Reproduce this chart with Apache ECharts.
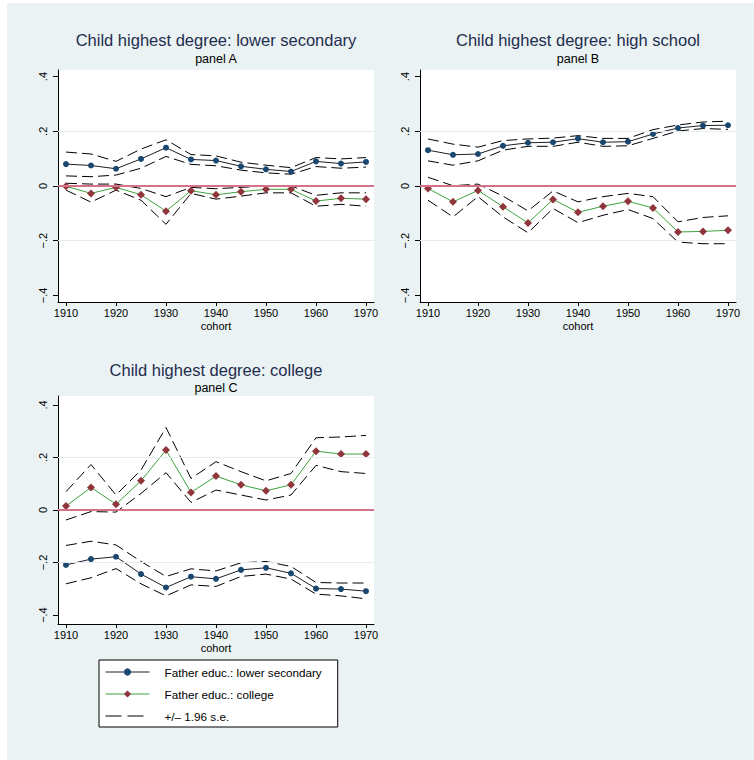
<!DOCTYPE html>
<html>
<head>
<meta charset="utf-8">
<script src="https://cdn.jsdelivr.net/npm/echarts@6/dist/echarts.min.js"></script>
<style>
  html, body { margin: 0; padding: 0; background: #ffffff; }
  #chart { width: 754px; height: 760px; }
</style>
</head>
<body>
<div id="chart"></div>
<script>
// Birth cohorts on the x axis
const cohorts = [1910, 1915, 1920, 1925, 1930, 1935, 1940, 1945, 1950, 1955, 1960, 1965, 1970];
const xTicks = [1910, 1920, 1930, 1940, 1950, 1960, 1970];
const yTicks = [-0.4, -0.2, 0, 0.2, 0.4];
const yTickLabels = ['\u2212.4', '\u2212.2', '0', '.2', '.4'];

const panelTitles = ['Child highest degree: lower secondary', 'Child highest degree: high school', 'Child highest degree: college'];
const panelSubtitles = ['panel A', 'panel B', 'panel C'];
const seriesNames = ['Father educ.: lower secondary', 'Father educ.: college', '+/\u2013 1.96 s.e.'];
const xAxisName = 'cohort';

// Panel A: child reached lower secondary
const aLowSecEst = [0.080, 0.075, 0.063, 0.099, 0.140, 0.097, 0.093, 0.072, 0.061, 0.053, 0.090, 0.082, 0.088];
const aLowSecHi  = [0.124, 0.117, 0.090, 0.135, 0.169, 0.115, 0.110, 0.087, 0.076, 0.067, 0.104, 0.099, 0.104];
const aLowSecLo  = [0.037, 0.034, 0.040, 0.065, 0.108, 0.079, 0.074, 0.058, 0.048, 0.043, 0.071, 0.065, 0.069];
const aCollEst   = [-0.001, -0.027, -0.005, -0.032, -0.092, -0.017, -0.032, -0.021, -0.012, -0.012, -0.055, -0.045, -0.048];
const aCollHi    = [0.010, 0.007, 0.007, -0.009, -0.039, -0.005, -0.010, -0.005, 0.000, 0.000, -0.034, -0.025, -0.025];
const aCollLo    = [-0.015, -0.059, -0.015, -0.052, -0.140, -0.027, -0.048, -0.037, -0.025, -0.025, -0.074, -0.067, -0.074];

// Panel B: child reached high school
const bLowSecEst = [0.131, 0.114, 0.117, 0.147, 0.158, 0.160, 0.173, 0.160, 0.162, 0.190, 0.212, 0.221, 0.222];
const bLowSecHi  = [0.172, 0.153, 0.142, 0.166, 0.172, 0.175, 0.184, 0.174, 0.174, 0.206, 0.223, 0.234, 0.237];
const bLowSecLo  = [0.092, 0.076, 0.092, 0.131, 0.145, 0.145, 0.160, 0.145, 0.147, 0.174, 0.201, 0.210, 0.207];
const bCollEst   = [-0.009, -0.058, -0.016, -0.076, -0.135, -0.049, -0.096, -0.074, -0.056, -0.080, -0.168, -0.166, -0.162];
const bCollHi    = [0.032, 0.001, 0.007, -0.037, -0.091, -0.018, -0.058, -0.039, -0.027, -0.039, -0.131, -0.115, -0.109];
const bCollLo    = [-0.052, -0.113, -0.039, -0.113, -0.171, -0.082, -0.134, -0.107, -0.086, -0.119, -0.205, -0.211, -0.211];

// Panel C: child reached college
const cLowSecEst = [-0.209, -0.187, -0.178, -0.244, -0.295, -0.254, -0.262, -0.228, -0.220, -0.241, -0.299, -0.301, -0.309];
const cLowSecHi  = [-0.135, -0.119, -0.133, -0.196, -0.253, -0.224, -0.232, -0.201, -0.196, -0.215, -0.276, -0.278, -0.278];
const cLowSecLo  = [-0.281, -0.258, -0.223, -0.281, -0.327, -0.285, -0.291, -0.253, -0.244, -0.263, -0.320, -0.327, -0.338];
const cCollEst   = [0.015, 0.086, 0.022, 0.111, 0.228, 0.067, 0.129, 0.096, 0.073, 0.096, 0.224, 0.213, 0.213];
const cCollHi    = [0.070, 0.173, 0.057, 0.152, 0.314, 0.120, 0.184, 0.146, 0.111, 0.139, 0.275, 0.278, 0.284];
const cCollLo    = [-0.038, -0.006, -0.008, 0.063, 0.142, 0.029, 0.076, 0.057, 0.038, 0.057, 0.170, 0.146, 0.139];

const panels = [
  { est1: aLowSecEst, hi1: aLowSecHi, lo1: aLowSecLo, est2: aCollEst, hi2: aCollHi, lo2: aCollLo },
  { est1: bLowSecEst, hi1: bLowSecHi, lo1: bLowSecLo, est2: bCollEst, hi2: bCollHi, lo2: bCollLo },
  { est1: cLowSecEst, hi1: cLowSecHi, lo1: cLowSecLo, est2: cCollEst, hi2: cCollHi, lo2: cCollLo }
];

const FONT = '"Liberation Sans", Arial, Helvetica, sans-serif';
const NAVY = '#1a476f';
const MAROON = '#90353b';
const GREEN = '#3da33d';
const LINE_DARK = '#1b1f2a';
const ZERO_RED = '#d4728a';
const GRID_TINT = '#e4eef0';

// Plot regions (pixels) and vertical extents
const grids = [
  { left: 58, top: 70, width: 316, height: 232 },
  { left: 420, top: 70, width: 316, height: 232 },
  { left: 58, top: 396, width: 316, height: 228 }
];
const yExtent = [0.424, 0.424, 0.434];

const pairs = vals => vals.map((v, i) => [cohorts[i], v]);
const tickLabel = v => {
  const i = yTicks.findIndex(t => Math.abs(t - v) < 1e-9);
  return i < 0 ? '' : yTickLabels[i];
};

const xAxes = grids.map((g, i) => ({
  type: 'value', gridIndex: i, min: 1908.4, max: 1971.6,
  name: xAxisName, nameLocation: 'middle', nameGap: 18,
  nameTextStyle: { fontFamily: FONT, fontSize: 11, color: '#000' },
  axisLine: { show: true, onZero: false, lineStyle: { color: '#000', width: 1 } },
  axisTick: { show: true, length: 4, customValues: xTicks, lineStyle: { color: '#000' } },
  axisLabel: { customValues: xTicks, margin: 5, fontFamily: FONT, fontSize: 11, color: '#000', formatter: v => String(v) },
  splitLine: { show: false }
}));

const yAxes = grids.map((g, i) => ({
  type: 'value', gridIndex: i, min: -yExtent[i], max: yExtent[i],
  axisLine: { show: true, onZero: false, lineStyle: { color: '#000', width: 1 } },
  axisTick: { show: true, length: 5, customValues: yTicks, lineStyle: { color: '#000' } },
  axisLabel: { customValues: yTicks, rotate: 90, margin: 10, fontFamily: FONT, fontSize: 11, color: '#000', formatter: tickLabel },
  splitLine: { show: false }
}));

const ciSeries = (name, vals, gi, withRefLines) => {
  const s = {
    type: 'line', name: name, xAxisIndex: gi, yAxisIndex: gi,
    data: pairs(vals), symbol: 'circle', showSymbol: false, z: 2,
    itemStyle: { color: 'rgba(0,0,0,0)' },
    lineStyle: { color: '#000', width: 1, type: [11, 5] },
    silent: true
  };
  if (withRefLines) {
    s.markLine = {
      silent: true, symbol: 'none', label: { show: false }, animation: false,
      data: [
        { yAxis: 0.2, lineStyle: { color: GRID_TINT, width: 1, type: 'solid' } },
        { yAxis: -0.2, lineStyle: { color: GRID_TINT, width: 1, type: 'solid' } },
        { yAxis: 0, lineStyle: { color: ZERO_RED, width: 2, type: 'solid' } }
      ]
    };
  }
  return s;
};

const series = [];
panels.forEach((p, gi) => {
  series.push(ciSeries(seriesNames[2], p.hi1, gi, true));
  series.push(ciSeries(seriesNames[2], p.lo1, gi, false));
  series.push(ciSeries(seriesNames[2], p.hi2, gi, false));
  series.push(ciSeries(seriesNames[2], p.lo2, gi, false));
  series.push({
    type: 'line', name: seriesNames[0], xAxisIndex: gi, yAxisIndex: gi,
    data: pairs(p.est1), symbol: 'circle', symbolSize: 6, showSymbol: true, z: 4,
    itemStyle: { color: NAVY }, lineStyle: { color: LINE_DARK, width: 1 }
  });
  series.push({
    type: 'line', name: seriesNames[1], xAxisIndex: gi, yAxisIndex: gi,
    data: pairs(p.est2), symbol: 'diamond', symbolSize: 8, showSymbol: true, z: 4,
    itemStyle: { color: MAROON }, lineStyle: { color: GREEN, width: 1 }
  });
});

const titleCenters = [[216, 40, 58.5], [578, 40, 58.5], [216, 370, 387.5]];
const graphics = [
  { type: 'rect', left: 7, top: 3, z: -10, silent: true, shape: { width: 747, height: 757 }, style: { fill: '#eaf2f3' } }
];
titleCenters.forEach((c, i) => {
  graphics.push({
    type: 'text', x: c[0], y: c[1], silent: true,
    style: { text: panelTitles[i], font: '16.5px ' + FONT, fill: '#1f2d4f', align: 'center', verticalAlign: 'middle' }
  });
  graphics.push({
    type: 'text', x: c[0], y: c[2], silent: true,
    style: { text: panelSubtitles[i], font: '12.5px ' + FONT, fill: '#000', align: 'center', verticalAlign: 'middle' }
  });
});

const chart = echarts.init(document.getElementById('chart'), null, { renderer: 'svg' });
chart.setOption({
  animation: false,
  backgroundColor: '#ffffff',
  grid: grids.map(g => Object.assign({ show: true, backgroundColor: '#ffffff', borderWidth: 0, containLabel: false }, g)),
  xAxis: xAxes,
  yAxis: yAxes,
  graphic: graphics,
  legend: {
    data: [
      { name: seriesNames[0] },
      { name: seriesNames[1] },
      { name: seriesNames[2], lineStyle: { type: [16, 6], width: 1, color: '#000' } }
    ],
    orient: 'vertical', left: 99, top: 660,
    itemWidth: 44, itemHeight: 9, itemGap: 8,
    padding: [5, 16, 4, 6],
    backgroundColor: '#ffffff', borderColor: '#000', borderWidth: 1, borderRadius: 0,
    selectedMode: false,
    lineStyle: { width: 1 },
    textStyle: { fontFamily: FONT, fontSize: 11.7, color: '#000', lineHeight: 14, padding: [0, 0, 0, 10] }
  },
  series: series
});
</script>
</body>
</html>
